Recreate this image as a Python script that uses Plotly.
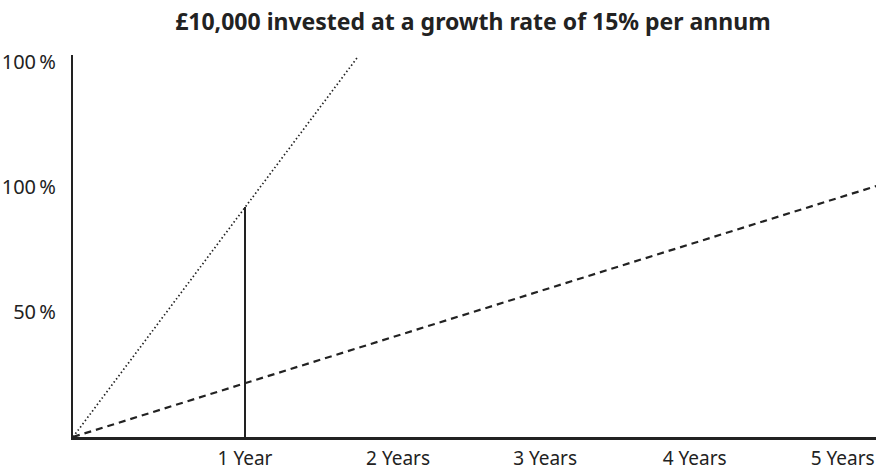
import plotly.graph_objects as go

# Data (x in axis units where 1 unit = first year mark; y in percent axis units)
title = "£10,000 invested at a growth rate of 15% per annum"
tick_pos = [1.0, 1.89, 2.745, 3.615, 4.475]
tick_text = ["1 Year", "2 Years", "3 Years", "4 Years", "5 Years"]
y_tick_vals = [50, 100, 150]
y_tick_text = ["50\u2009%", "100\u2009%", "100\u2009%"]

dotted_x = [0, 1.651]
dotted_y = [0, 151.6]
dashed_x = [0, 4.69]
dashed_y = [0, 100.8]
vline_x = [1.0, 1.0]
vline_y = [0, 92.0]

fig = go.Figure()
fig.add_trace(go.Scatter(x=dotted_x, y=dotted_y, mode="lines",
                         line=dict(color="#222", width=1.7, dash="1.5px,2.5px"),
                         hoverinfo="skip"))
fig.add_trace(go.Scatter(x=dashed_x, y=dashed_y, mode="lines",
                         line=dict(color="#222", width=2.2, dash="7px,5px"),
                         hoverinfo="skip"))
fig.add_trace(go.Scatter(x=vline_x, y=vline_y, mode="lines",
                         line=dict(color="#222", width=2),
                         hoverinfo="skip"))

fig.update_layout(
    width=879, height=469,
    margin=dict(l=73, r=3, t=55, b=32, autoexpand=False),
    paper_bgcolor="white", plot_bgcolor="white",
    showlegend=False,
    font=dict(family="Noto Sans, Open Sans, sans-serif", color="#222", size=20),
    title=dict(text="<b>" + title + "</b>", x=0.538, xanchor="center",
               y=0.953, yanchor="middle", font=dict(size=23, color="#222")),
    xaxis=dict(range=[0, 4.669], tickmode="array", tickvals=tick_pos, ticktext=tick_text,
               tickfont=dict(size=19),
               showgrid=False, zeroline=False, showline=True, linecolor="#222", linewidth=2.5,
               ticks="", ticklabelstandoff=2, fixedrange=True),
    yaxis=dict(range=[0, 152.8], tickmode="array", tickvals=y_tick_vals, ticktext=y_tick_text,
               showgrid=False, zeroline=False, showline=True, linecolor="#222", linewidth=2,
               ticks="", ticklabelstandoff=11, fixedrange=True),
)

fig.write_html("out.html", config={"displayModeBar": False},
               post_script="document.body.style.margin='0';document.body.style.overflow='hidden';")
